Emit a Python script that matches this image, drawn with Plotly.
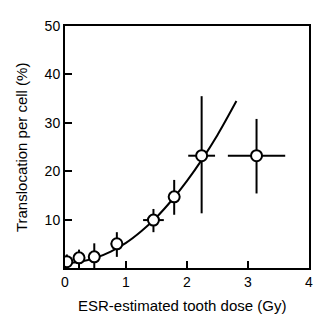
import plotly.graph_objects as go

dose = [0.03, 0.23, 0.48, 0.85, 1.45, 1.79, 2.24, 3.14]
transloc = [1.3, 2.1, 2.3, 5.0, 9.9, 14.7, 23.2, 23.2]
y_err_plus = [1.5, 1.7, 2.8, 2.4, 2.3, 3.5, 12.3, 7.6]
y_err_minus = [1.3, 2.1, 2.3, 2.7, 2.5, 3.7, 11.9, 7.8]
x_err = [0.06, 0.08, 0.08, 0.1, 0.17, 0.09, 0.22, 0.47]

fit_x = [0.0, 0.25, 0.5, 0.75, 1.0, 1.25, 1.5, 1.75, 2.0, 2.25, 2.5, 2.81]
fit_y = [1.0, 1.3, 2.1, 3.4, 5.2, 7.6, 10.5, 14.0, 18.0, 22.5, 27.5, 34.5]

x_title = "ESR-estimated tooth dose (Gy)"
y_title = "Translocation per cell (%)"

FONT = "Liberation Sans, Arial"

fig = go.Figure()
fig.add_trace(go.Scatter(x=fit_x, y=fit_y, mode="lines", line=dict(color="black", width=2, shape="spline"),
                         hoverinfo="skip", showlegend=False))
fig.add_trace(go.Scatter(
    x=dose, y=transloc, mode="markers",
    marker=dict(symbol="circle", size=11, color="white", line=dict(color="black", width=2)),
    error_y=dict(type="data", symmetric=False, array=y_err_plus, arrayminus=y_err_minus,
                 color="black", thickness=2, width=0),
    error_x=dict(type="data", array=x_err, color="black", thickness=2, width=0),
    showlegend=False))

axis_common = dict(showline=True, linecolor="black", linewidth=2, mirror=True,
                   ticks="inside", ticklen=7, tickwidth=2, tickcolor="black",
                   showgrid=False, zeroline=False,
                   tickfont=dict(family=FONT, size=14, color="black"))

fig.update_layout(
    width=334, height=324,
    margin=dict(l=65, r=25, t=26, b=56),
    paper_bgcolor="white", plot_bgcolor="white",
    xaxis=dict(range=[0, 4], tickvals=[0, 1, 2, 3, 4], **axis_common),
    yaxis=dict(range=[0, 50], tickvals=[10, 20, 30, 40, 50], **axis_common),
    annotations=[
        dict(text=x_title, xref="paper", yref="paper", x=0.48, y=-0.153,
             xanchor="center", yanchor="middle", showarrow=False,
             font=dict(family=FONT, size=15, color="black")),
        dict(text=y_title, xref="paper", yref="paper", x=-0.18, y=0.5,
             xanchor="center", yanchor="middle", showarrow=False, textangle=-90,
             font=dict(family=FONT, size=15, color="black")),
    ],
)
fig.write_html("out.html")
